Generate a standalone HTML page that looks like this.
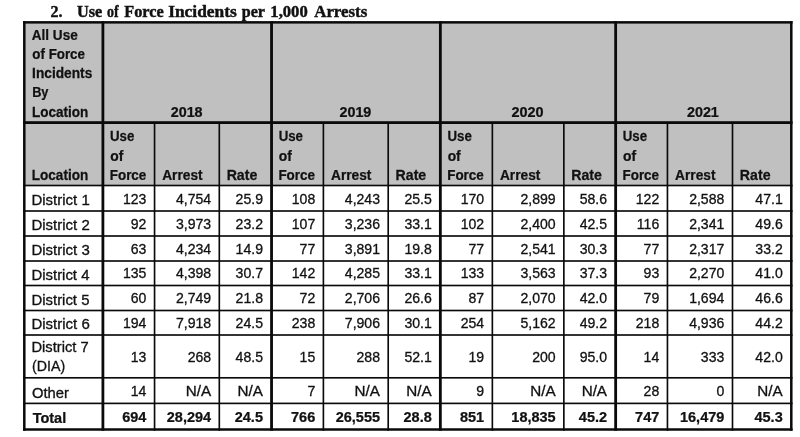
<!DOCTYPE html>
<html><head><meta charset="utf-8"><title>Use of Force Incidents per 1,000 Arrests</title>
<style>html,body{margin:0;padding:0;background:#fff;}body{width:800px;height:437px;overflow:hidden;font-family:"Liberation Sans",sans-serif;}svg{display:block;filter:blur(0.55px);}text{font-family:"Liberation Sans",sans-serif;font-size:14.0px;fill:#111;stroke:#111;stroke-width:0.3px;}.b{font-weight:bold;stroke-width:0.25px;}.t{font-family:"Liberation Serif",serif;font-weight:bold;font-size:16.8px;stroke-width:0.45px;}</style></head><body>
<svg width="800" height="437" viewBox="0 0 800 437">
<rect x="-5" y="-5" width="810" height="447" fill="#fff"/>
<rect x="24.30" y="22.35" width="767.00" height="163.15" fill="#c0c0c0"/>
<rect x="23.05" y="21.10" width="2.50" height="409.65" fill="#0a0a0a"/>
<rect x="101.50" y="21.10" width="2.80" height="409.65" fill="#0a0a0a"/>
<rect x="153.73" y="122.60" width="1.65" height="308.15" fill="#0a0a0a"/>
<rect x="218.48" y="122.60" width="1.65" height="308.15" fill="#0a0a0a"/>
<rect x="270.15" y="21.10" width="2.80" height="409.65" fill="#0a0a0a"/>
<rect x="322.57" y="122.60" width="1.65" height="308.15" fill="#0a0a0a"/>
<rect x="387.38" y="122.60" width="1.65" height="308.15" fill="#0a0a0a"/>
<rect x="438.95" y="21.10" width="2.80" height="409.65" fill="#0a0a0a"/>
<rect x="491.53" y="122.60" width="1.65" height="308.15" fill="#0a0a0a"/>
<rect x="563.02" y="122.60" width="1.65" height="308.15" fill="#0a0a0a"/>
<rect x="614.25" y="21.10" width="2.80" height="409.65" fill="#0a0a0a"/>
<rect x="666.62" y="122.60" width="1.65" height="308.15" fill="#0a0a0a"/>
<rect x="731.67" y="122.60" width="1.65" height="308.15" fill="#0a0a0a"/>
<rect x="790.05" y="21.10" width="2.50" height="409.65" fill="#0a0a0a"/>
<rect x="23.05" y="21.10" width="769.50" height="2.50" fill="#0a0a0a"/>
<rect x="23.05" y="121.20" width="769.50" height="2.80" fill="#0a0a0a"/>
<rect x="23.05" y="184.68" width="769.50" height="1.65" fill="#0a0a0a"/>
<rect x="23.05" y="210.18" width="769.50" height="1.65" fill="#0a0a0a"/>
<rect x="23.05" y="235.18" width="769.50" height="1.65" fill="#0a0a0a"/>
<rect x="23.05" y="260.18" width="769.50" height="1.65" fill="#0a0a0a"/>
<rect x="23.05" y="284.68" width="769.50" height="1.65" fill="#0a0a0a"/>
<rect x="23.05" y="309.68" width="769.50" height="1.65" fill="#0a0a0a"/>
<rect x="23.05" y="334.18" width="769.50" height="1.65" fill="#0a0a0a"/>
<rect x="23.05" y="376.98" width="769.50" height="1.65" fill="#0a0a0a"/>
<rect x="23.05" y="402.57" width="769.50" height="1.65" fill="#0a0a0a"/>
<rect x="23.05" y="428.25" width="769.50" height="2.50" fill="#0a0a0a"/>
<text transform="translate(50.48 17.35) scale(0.9545 1)" text-anchor="start" class="t">2.</text>
<text transform="translate(76.96 17.35) scale(0.9703 1)" text-anchor="start" class="t">Use</text>
<text transform="translate(107.08 17.35) scale(0.8296 1)" text-anchor="start" class="t">of</text>
<text transform="translate(124.21 17.35) scale(0.9687 1)" text-anchor="start" class="t">Force</text>
<text transform="translate(168.18 17.35) scale(1.0345 1)" text-anchor="start" class="t">Incidents</text>
<text transform="translate(241.71 17.35) scale(0.9579 1)" text-anchor="start" class="t">per</text>
<text transform="translate(270.36 17.35) scale(0.9889 1)" text-anchor="start" class="t">1,000</text>
<text transform="translate(314.20 17.35) scale(1.0048 1)" text-anchor="start" class="t">Arrests</text>
<text transform="translate(31.77 39.60) scale(0.9688 1)" text-anchor="start" class="b">All Use</text>
<text transform="translate(32.37 58.50) scale(0.9530 1)" text-anchor="start" class="b">of Force</text>
<text transform="translate(32.07 77.60) scale(0.9808 1)" text-anchor="start" class="b">Incidents</text>
<text transform="translate(32.14 96.60) scale(0.9134 1)" text-anchor="start" class="b">By</text>
<text transform="translate(32.08 116.60) scale(0.9655 1)" text-anchor="start" class="b">Location</text>
<text transform="translate(170.71 116.50) scale(1.0248 1)" text-anchor="start" class="b">2018</text>
<text transform="translate(339.44 116.50) scale(1.0248 1)" text-anchor="start" class="b">2019</text>
<text transform="translate(511.48 116.50) scale(1.0333 1)" text-anchor="start" class="b">2020</text>
<text transform="translate(686.96 116.50) scale(1.0248 1)" text-anchor="start" class="b">2021</text>
<text transform="translate(31.78 180.10) scale(0.9690 1)" text-anchor="start" class="b">Location</text>
<text transform="translate(109.99 141.20) scale(0.9469 1)" text-anchor="start" class="b">Use</text>
<text transform="translate(110.21 160.60) scale(0.9882 1)" text-anchor="start" class="b">of</text>
<text transform="translate(109.74 180.10) scale(0.9589 1)" text-anchor="start" class="b">Force</text>
<text transform="translate(162.16 180.10) scale(0.9802 1)" text-anchor="start" class="b">Arrest</text>
<text transform="translate(226.64 180.10) scale(1.0122 1)" text-anchor="start" class="b">Rate</text>
<text transform="translate(278.64 141.20) scale(0.9469 1)" text-anchor="start" class="b">Use</text>
<text transform="translate(278.86 160.60) scale(0.9882 1)" text-anchor="start" class="b">of</text>
<text transform="translate(278.39 180.10) scale(0.9589 1)" text-anchor="start" class="b">Force</text>
<text transform="translate(331.01 180.10) scale(0.9802 1)" text-anchor="start" class="b">Arrest</text>
<text transform="translate(395.54 180.10) scale(1.0122 1)" text-anchor="start" class="b">Rate</text>
<text transform="translate(447.44 141.20) scale(0.9469 1)" text-anchor="start" class="b">Use</text>
<text transform="translate(447.66 160.60) scale(0.9882 1)" text-anchor="start" class="b">of</text>
<text transform="translate(447.19 180.10) scale(0.9589 1)" text-anchor="start" class="b">Force</text>
<text transform="translate(499.96 180.10) scale(0.9802 1)" text-anchor="start" class="b">Arrest</text>
<text transform="translate(571.19 180.10) scale(1.0122 1)" text-anchor="start" class="b">Rate</text>
<text transform="translate(622.74 141.20) scale(0.9469 1)" text-anchor="start" class="b">Use</text>
<text transform="translate(622.96 160.60) scale(0.9882 1)" text-anchor="start" class="b">of</text>
<text transform="translate(622.49 180.10) scale(0.9589 1)" text-anchor="start" class="b">Force</text>
<text transform="translate(675.06 180.10) scale(0.9802 1)" text-anchor="start" class="b">Arrest</text>
<text transform="translate(739.84 180.10) scale(1.0122 1)" text-anchor="start" class="b">Rate</text>
<text transform="translate(31.46 205.20) scale(1.0705 1)" text-anchor="start">District 1</text>
<text transform="translate(146.35 203.80) scale(1.0050 1)" text-anchor="end">123</text>
<text transform="translate(211.10 203.80) scale(1.0050 1)" text-anchor="end">4,754</text>
<text transform="translate(262.95 203.80) scale(1.0050 1)" text-anchor="end">25.9</text>
<text transform="translate(315.20 203.80) scale(1.0050 1)" text-anchor="end">108</text>
<text transform="translate(380.00 203.80) scale(1.0050 1)" text-anchor="end">4,243</text>
<text transform="translate(431.75 203.80) scale(1.0050 1)" text-anchor="end">25.5</text>
<text transform="translate(484.15 203.80) scale(1.0050 1)" text-anchor="end">170</text>
<text transform="translate(555.65 203.80) scale(1.0050 1)" text-anchor="end">2,899</text>
<text transform="translate(607.05 203.80) scale(1.0050 1)" text-anchor="end">58.6</text>
<text transform="translate(659.25 203.80) scale(1.0050 1)" text-anchor="end">122</text>
<text transform="translate(724.30 203.80) scale(1.0050 1)" text-anchor="end">2,588</text>
<text transform="translate(782.70 203.80) scale(1.0050 1)" text-anchor="end">47.1</text>
<text transform="translate(31.46 230.10) scale(1.0705 1)" text-anchor="start">District 2</text>
<text transform="translate(146.35 228.70) scale(1.0050 1)" text-anchor="end">92</text>
<text transform="translate(211.10 228.70) scale(1.0050 1)" text-anchor="end">3,973</text>
<text transform="translate(262.95 228.70) scale(1.0050 1)" text-anchor="end">23.2</text>
<text transform="translate(315.20 228.70) scale(1.0050 1)" text-anchor="end">107</text>
<text transform="translate(380.00 228.70) scale(1.0050 1)" text-anchor="end">3,236</text>
<text transform="translate(431.75 228.70) scale(1.0050 1)" text-anchor="end">33.1</text>
<text transform="translate(484.15 228.70) scale(1.0050 1)" text-anchor="end">102</text>
<text transform="translate(555.65 228.70) scale(1.0050 1)" text-anchor="end">2,400</text>
<text transform="translate(607.05 228.70) scale(1.0050 1)" text-anchor="end">42.5</text>
<text transform="translate(659.25 228.70) scale(1.0050 1)" text-anchor="end">116</text>
<text transform="translate(724.30 228.70) scale(1.0050 1)" text-anchor="end">2,341</text>
<text transform="translate(782.70 228.70) scale(1.0050 1)" text-anchor="end">49.6</text>
<text transform="translate(31.46 255.00) scale(1.0705 1)" text-anchor="start">District 3</text>
<text transform="translate(146.35 253.60) scale(1.0050 1)" text-anchor="end">63</text>
<text transform="translate(211.10 253.60) scale(1.0050 1)" text-anchor="end">4,234</text>
<text transform="translate(262.95 253.60) scale(1.0050 1)" text-anchor="end">14.9</text>
<text transform="translate(315.20 253.60) scale(1.0050 1)" text-anchor="end">77</text>
<text transform="translate(380.00 253.60) scale(1.0050 1)" text-anchor="end">3,891</text>
<text transform="translate(431.75 253.60) scale(1.0050 1)" text-anchor="end">19.8</text>
<text transform="translate(484.15 253.60) scale(1.0050 1)" text-anchor="end">77</text>
<text transform="translate(555.65 253.60) scale(1.0050 1)" text-anchor="end">2,541</text>
<text transform="translate(607.05 253.60) scale(1.0050 1)" text-anchor="end">30.3</text>
<text transform="translate(659.25 253.60) scale(1.0050 1)" text-anchor="end">77</text>
<text transform="translate(724.30 253.60) scale(1.0050 1)" text-anchor="end">2,317</text>
<text transform="translate(782.70 253.60) scale(1.0050 1)" text-anchor="end">33.2</text>
<text transform="translate(31.47 279.70) scale(1.0654 1)" text-anchor="start">District 4</text>
<text transform="translate(146.35 278.30) scale(1.0050 1)" text-anchor="end">135</text>
<text transform="translate(211.10 278.30) scale(1.0050 1)" text-anchor="end">4,398</text>
<text transform="translate(262.95 278.30) scale(1.0050 1)" text-anchor="end">30.7</text>
<text transform="translate(315.20 278.30) scale(1.0050 1)" text-anchor="end">142</text>
<text transform="translate(380.00 278.30) scale(1.0050 1)" text-anchor="end">4,285</text>
<text transform="translate(431.75 278.30) scale(1.0050 1)" text-anchor="end">33.1</text>
<text transform="translate(484.15 278.30) scale(1.0050 1)" text-anchor="end">133</text>
<text transform="translate(555.65 278.30) scale(1.0050 1)" text-anchor="end">3,563</text>
<text transform="translate(607.05 278.30) scale(1.0050 1)" text-anchor="end">37.3</text>
<text transform="translate(659.25 278.30) scale(1.0050 1)" text-anchor="end">93</text>
<text transform="translate(724.30 278.30) scale(1.0050 1)" text-anchor="end">2,270</text>
<text transform="translate(782.70 278.30) scale(1.0050 1)" text-anchor="end">41.0</text>
<text transform="translate(31.47 304.50) scale(1.0654 1)" text-anchor="start">District 5</text>
<text transform="translate(146.35 303.10) scale(1.0050 1)" text-anchor="end">60</text>
<text transform="translate(211.10 303.10) scale(1.0050 1)" text-anchor="end">2,749</text>
<text transform="translate(262.95 303.10) scale(1.0050 1)" text-anchor="end">21.8</text>
<text transform="translate(315.20 303.10) scale(1.0050 1)" text-anchor="end">72</text>
<text transform="translate(380.00 303.10) scale(1.0050 1)" text-anchor="end">2,706</text>
<text transform="translate(431.75 303.10) scale(1.0050 1)" text-anchor="end">26.6</text>
<text transform="translate(484.15 303.10) scale(1.0050 1)" text-anchor="end">87</text>
<text transform="translate(555.65 303.10) scale(1.0050 1)" text-anchor="end">2,070</text>
<text transform="translate(607.05 303.10) scale(1.0050 1)" text-anchor="end">42.0</text>
<text transform="translate(659.25 303.10) scale(1.0050 1)" text-anchor="end">79</text>
<text transform="translate(724.30 303.10) scale(1.0050 1)" text-anchor="end">1,694</text>
<text transform="translate(782.70 303.10) scale(1.0050 1)" text-anchor="end">46.6</text>
<text transform="translate(31.46 329.30) scale(1.0705 1)" text-anchor="start">District 6</text>
<text transform="translate(146.35 328.00) scale(1.0050 1)" text-anchor="end">194</text>
<text transform="translate(211.10 328.00) scale(1.0050 1)" text-anchor="end">7,918</text>
<text transform="translate(262.95 328.00) scale(1.0050 1)" text-anchor="end">24.5</text>
<text transform="translate(315.20 328.00) scale(1.0050 1)" text-anchor="end">238</text>
<text transform="translate(380.00 328.00) scale(1.0050 1)" text-anchor="end">7,906</text>
<text transform="translate(431.75 328.00) scale(1.0050 1)" text-anchor="end">30.1</text>
<text transform="translate(484.15 328.00) scale(1.0050 1)" text-anchor="end">254</text>
<text transform="translate(555.65 328.00) scale(1.0050 1)" text-anchor="end">5,162</text>
<text transform="translate(607.05 328.00) scale(1.0050 1)" text-anchor="end">49.2</text>
<text transform="translate(659.25 328.00) scale(1.0050 1)" text-anchor="end">218</text>
<text transform="translate(724.30 328.00) scale(1.0050 1)" text-anchor="end">4,936</text>
<text transform="translate(782.70 328.00) scale(1.0050 1)" text-anchor="end">44.2</text>
<text transform="translate(31.44 352.40) scale(1.0505 1)" text-anchor="start">District 7</text>
<text transform="translate(31.99 371.20) scale(1.0145 1)" text-anchor="start">(DIA)</text>
<text transform="translate(146.35 361.90) scale(1.0050 1)" text-anchor="end">13</text>
<text transform="translate(211.10 361.90) scale(1.0050 1)" text-anchor="end">268</text>
<text transform="translate(262.95 361.90) scale(1.0050 1)" text-anchor="end">48.5</text>
<text transform="translate(315.20 361.90) scale(1.0050 1)" text-anchor="end">15</text>
<text transform="translate(380.00 361.90) scale(1.0050 1)" text-anchor="end">288</text>
<text transform="translate(431.75 361.90) scale(1.0050 1)" text-anchor="end">52.1</text>
<text transform="translate(484.15 361.90) scale(1.0050 1)" text-anchor="end">19</text>
<text transform="translate(555.65 361.90) scale(1.0050 1)" text-anchor="end">200</text>
<text transform="translate(607.05 361.90) scale(1.0050 1)" text-anchor="end">95.0</text>
<text transform="translate(659.25 361.90) scale(1.0050 1)" text-anchor="end">14</text>
<text transform="translate(724.30 361.90) scale(1.0050 1)" text-anchor="end">333</text>
<text transform="translate(782.70 361.90) scale(1.0050 1)" text-anchor="end">42.0</text>
<text transform="translate(31.96 397.60) scale(1.0574 1)" text-anchor="start">Other</text>
<text transform="translate(146.35 395.80) scale(1.0050 1)" text-anchor="end">14</text>
<text transform="translate(211.10 395.80) scale(1.0900 1)" text-anchor="end">N/A</text>
<text transform="translate(262.95 395.80) scale(1.0900 1)" text-anchor="end">N/A</text>
<text transform="translate(315.20 395.80) scale(1.0050 1)" text-anchor="end">7</text>
<text transform="translate(380.00 395.80) scale(1.0900 1)" text-anchor="end">N/A</text>
<text transform="translate(431.75 395.80) scale(1.0900 1)" text-anchor="end">N/A</text>
<text transform="translate(484.15 395.80) scale(1.0050 1)" text-anchor="end">9</text>
<text transform="translate(555.65 395.80) scale(1.0900 1)" text-anchor="end">N/A</text>
<text transform="translate(607.05 395.80) scale(1.0900 1)" text-anchor="end">N/A</text>
<text transform="translate(659.25 395.80) scale(1.0050 1)" text-anchor="end">28</text>
<text transform="translate(724.30 395.80) scale(1.0050 1)" text-anchor="end">0</text>
<text transform="translate(782.70 395.80) scale(1.0900 1)" text-anchor="end">N/A</text>
<text transform="translate(32.64 423.30) scale(1.0368 1)" text-anchor="start" class="b">Total</text>
<text transform="translate(146.35 421.60) scale(1.0350 1)" text-anchor="end" class="b">694</text>
<text transform="translate(211.10 421.60) scale(1.0350 1)" text-anchor="end" class="b">28,294</text>
<text transform="translate(262.95 421.60) scale(1.0350 1)" text-anchor="end" class="b">24.5</text>
<text transform="translate(315.20 421.60) scale(1.0350 1)" text-anchor="end" class="b">766</text>
<text transform="translate(380.00 421.60) scale(1.0350 1)" text-anchor="end" class="b">26,555</text>
<text transform="translate(431.75 421.60) scale(1.0350 1)" text-anchor="end" class="b">28.8</text>
<text transform="translate(484.15 421.60) scale(1.0350 1)" text-anchor="end" class="b">851</text>
<text transform="translate(555.65 421.60) scale(1.0350 1)" text-anchor="end" class="b">18,835</text>
<text transform="translate(607.05 421.60) scale(1.0350 1)" text-anchor="end" class="b">45.2</text>
<text transform="translate(659.25 421.60) scale(1.0350 1)" text-anchor="end" class="b">747</text>
<text transform="translate(724.30 421.60) scale(1.0350 1)" text-anchor="end" class="b">16,479</text>
<text transform="translate(782.70 421.60) scale(1.0350 1)" text-anchor="end" class="b">45.3</text>
</svg></body></html>
